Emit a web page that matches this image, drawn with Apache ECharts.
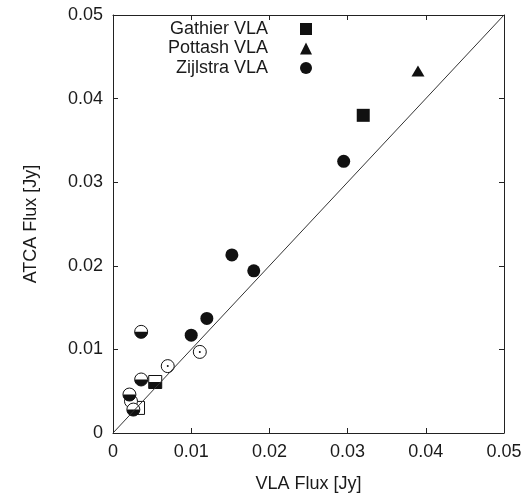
<!DOCTYPE html>
<html>
<head>
<meta charset="utf-8">
<script src="https://cdn.jsdelivr.net/npm/echarts@6/dist/echarts.min.js"></script>
<style>html,body{margin:0;padding:0;background:#fff;}#c{width:527px;height:498px;}</style>
</head>
<body>
<div id="c"></div>
<script>
// ---- data ----
const xTicks = [0, 0.01, 0.02, 0.03, 0.04, 0.05];
const diagonal = [[0, 0], [0.05, 0.05]];
const gathierFilled = [[0.032, 0.038]];
const gathierHalf = [[0.0054, 0.0061]];
const gathierOpen = [[0.0032, 0.0030]];
const pottashFilled = [[0.039, 0.0433]];
const zijlstraFilled = [[0.0295, 0.0325], [0.0152, 0.0213], [0.0180, 0.0194], [0.0120, 0.0137], [0.0100, 0.0117]];
const zijlstraHalf = [[0.0036, 0.0121], [0.0036, 0.0064], [0.0021, 0.0046], [0.0026, 0.0028]];
const zijlstraDotted = [[0.0111, 0.0097], [0.0070, 0.0080]];
const zijlstraOpen = [[0.0023, 0.0038]];

const FONT = 'Liberation Sans';
const TXT = '#1a1a1a';
const INK = '#111';
const halfDisc = 'path://M0,0 A10,10 0 0 0 20,0 Z';
const S = 13;

const chart = echarts.init(document.getElementById('c'));
const fmt = v => v === 0 ? '0' : v.toFixed(2);
const axisCommon = {
  type: 'value', min: 0, max: 0.05, interval: 0.01,
  splitLine: { show: false },
  axisLine: { show: true, onZero: false, lineStyle: { color: '#222', width: 1 } },
  axisTick: { show: true, inside: true, length: 5, lineStyle: { color: '#222' } }
};
const lbl = { color: TXT, fontFamily: FONT, fontSize: 18, margin: 10, formatter: fmt };

const openStyle = { color: '#fff', borderColor: INK, borderWidth: 1, opacity: 1 };
const fillStyle = { color: INK, opacity: 1 };

chart.setOption({
  animation: false,
  grid: { left: 113, right: 23, top: 15, bottom: 65 },
  legend: {
    orient: 'vertical', align: 'right', right: 215, top: 20, padding: 0,
    itemGap: 1.5, itemWidth: 12, itemHeight: 12,
    textStyle: { color: TXT, fontFamily: FONT, fontSize: 18, padding: [0, 27, 0, 0] },
    data: [
      { name: 'Gathier VLA', icon: 'rect' },
      { name: 'Pottash VLA', icon: 'triangle' },
      { name: 'Zijlstra VLA', icon: 'circle' }
    ],
    selectedMode: false
  },
  xAxis: [
    Object.assign({}, axisCommon, {
      position: 'bottom', axisLabel: lbl,
      name: 'VLA Flux [Jy]', nameLocation: 'middle', nameGap: 42,
      nameTextStyle: { color: TXT, fontFamily: FONT, fontSize: 18 }
    }),
    Object.assign({}, axisCommon, { position: 'top', axisLabel: { show: false } })
  ],
  yAxis: [
    Object.assign({}, axisCommon, {
      position: 'left', axisLabel: lbl,
      name: 'ATCA Flux [Jy]', nameLocation: 'middle', nameGap: 73, nameRotate: 90,
      nameTextStyle: { color: TXT, fontFamily: FONT, fontSize: 18 }
    }),
    Object.assign({}, axisCommon, { position: 'right', axisLabel: { show: false } })
  ],
  series: [
    { type: 'line', data: diagonal, symbol: 'none', silent: true,
      lineStyle: { color: '#333', width: 1 } },
    { name: 'Gathier VLA', type: 'scatter', data: gathierFilled, symbol: 'rect', symbolSize: S,
      itemStyle: fillStyle },
    { name: 'Gathier half', type: 'scatter', data: gathierHalf.concat(gathierOpen), symbol: 'rect', symbolSize: S,
      itemStyle: openStyle },
    { name: 'Gathier half fill', type: 'scatter', data: gathierHalf, symbol: 'rect', symbolSize: [S, S / 2],
      symbolOffset: [0, S / 4], itemStyle: fillStyle },
    { name: 'Pottash VLA', type: 'scatter', data: pottashFilled, symbol: 'triangle', symbolSize: [13, 11],
      itemStyle: fillStyle },
    { name: 'Zijlstra VLA', type: 'scatter', data: zijlstraFilled, symbol: 'circle', symbolSize: S,
      itemStyle: fillStyle },
    { name: 'Zijlstra open', type: 'scatter', data: zijlstraOpen.concat(zijlstraDotted, zijlstraHalf), symbol: 'circle', symbolSize: S,
      itemStyle: openStyle },
    { name: 'Zijlstra half fill', type: 'scatter', data: zijlstraHalf, symbol: halfDisc, symbolSize: [S, S / 2],
      symbolOffset: [0, S / 4], itemStyle: fillStyle },
    { name: 'Zijlstra dot', type: 'scatter', data: zijlstraDotted, symbol: 'circle', symbolSize: 2,
      itemStyle: fillStyle }
  ]
});
</script>
</body>
</html>
